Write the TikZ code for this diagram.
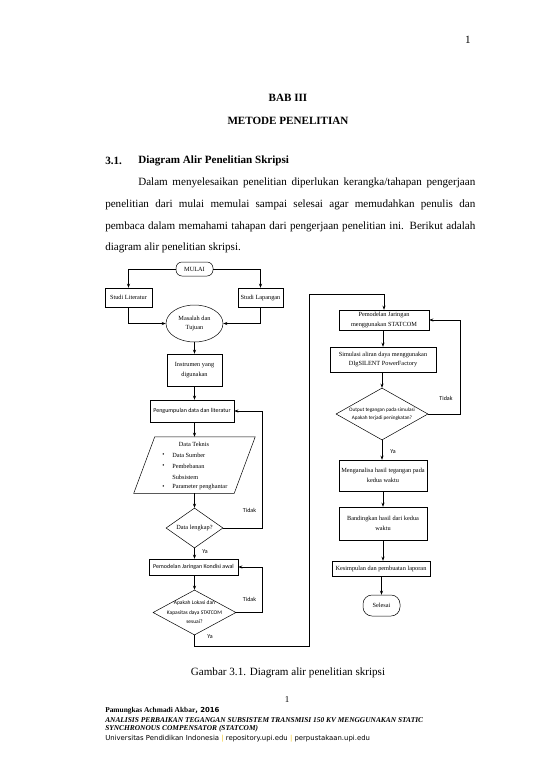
\documentclass[tikz,border=0pt]{standalone}
\usepackage{fontspec}
\setmainfont{Liberation Serif}
\newfontfamily\flowsans{Carlito}
\newfontfamily\footsans{DejaVu Sans}
\usetikzlibrary{shapes.geometric,arrows.meta}
\definecolor{kuning}{RGB}{240,196,30}

\begin{document}
\begin{tikzpicture}[x=1pt,y=-1pt,
    line width=0.5pt,
    kotak/.style={draw, rectangle, inner sep=0pt, align=center},
    ujung/.style={draw, rectangle, rounded corners=6pt, inner sep=0pt},
    oval/.style={draw, ellipse, inner sep=0pt, align=center},
    cabang/.style={draw, diamond, inner sep=0pt},
    serif/.style={font=\fontsize{6.3}{9.5}\selectfont, align=center},
    sans/.style={font=\flowsans\fontsize{6}{9.5}\selectfont, align=center},
    panah/.style={-{Stealth[length=4pt,width=3pt]}},
    isi/.style={font=\fontsize{11.1}{21.6}\selectfont},
    judul/.style={font=\bfseries\fontsize{11.1}{13}\selectfont}
  ]
  \fill[white] (0,0) rectangle (550,777);
  \useasboundingbox (0,0) rectangle (550,777);

  \node[font=\fontsize{11.1}{13}\selectfont] (hal) at (468,40) {1};
  \node[judul] (bab) at (288,98) {BAB III};
  \node[judul] (metode) at (288,121) {METODE PENELITIAN};
  \node[judul, anchor=west, inner sep=0pt] (nomor) at (105,161) {3.1.};
  \node[judul, anchor=west, inner sep=0pt] (subjudul) at (138,161) {Diagram Alir Penelitian Skripsi};
  \node[isi, text width=370pt, align=justify, anchor=north west, inner sep=0pt] (para) at (105,178)
    {\hspace*{33pt}Dalam menyelesaikan penelitian diperlukan kerangka/tahapan pengerjaan\linebreak
     penelitian dari mulai memulai sampai selesai agar memudahkan penulis dan\linebreak
     pembaca dalam memahami tahapan dari pengerjaan penelitian ini. Berikut adalah\linebreak
     diagram alir penelitian skripsi.};

  \coordinate (kiri) at (262,0);
  \coordinate (kanan) at (460,0);
  \coordinate (bawah) at (309,646);
  \coordinate (atas) at (309,294);

  \node[ujung, minimum width=37pt, minimum height=14pt, serif] (mulai) at (194.5,269) {MULAI};
  \node[kotak, minimum width=47pt, minimum height=19pt, serif] (stlit) at (128.5,297.5) {Studi Literatur};
  \node[kotak, minimum width=45pt, minimum height=19pt, serif] (stlap) at (260.5,297.5) {Studi Lapangan};
  \node[oval, minimum width=57pt, minimum height=37pt, serif] (masalah) at (194.5,323.5) {Masalah dan\\Tujuan};
  \node[kotak, minimum width=55pt, minimum height=32pt, serif] (instr) at (194.5,370) {Instrumen yang\\digunakan};
  \node[kotak, minimum width=84pt, minimum height=22pt, sans] (kumpul) at (192,411) {Pengumpulan data dan literatur};
  \node[minimum width=100pt, minimum height=56pt, inner sep=0pt] (teknis) at (194.5,465) {};
  \draw ([xshift=10.5pt]teknis.north west) -- ([xshift=10.5pt]teknis.north east)
     -- ([xshift=-10.5pt]teknis.south east) -- ([xshift=-10.5pt]teknis.south west) -- cycle;
  \node[serif] (teknisjudul) at (194,444) {Data Teknis};
  \foreach \y/\teks in {455/Data Sumber, 466/Pembebanan, 477/Subsistem, 487/Parameter penghantar}
    \node[serif, anchor=west, inner sep=0pt] at (172,\y) {\teks};
  \foreach \y in {455,466,487}
    \node[serif, inner sep=0pt] at (163.5,\y) {\textbullet};
  \node[cabang, minimum width=57pt, minimum height=40pt] (lengkap) at (194.5,528) {};
  \node[serif] at (lengkap) {Data lengkap?};
  \node[kotak, minimum width=89pt, minimum height=16pt, sans] (awal) at (193.5,567) {Pemodelan Jaringan Kondisi awal};
  \node[cabang, minimum width=83pt, minimum height=45pt] (lokasi) at (194.5,612.5) {};
  \node[sans, font=\flowsans\fontsize{5.5}{9.5}\selectfont] at (lokasi) {Apakah Lokasi dan\\Kapasitas daya STATCOM\\sesuai?};

  \node[kotak, minimum width=90pt, minimum height=20pt, serif] (statcom) at (384,320) {Pemodelan Jaringan\\menggunakan STATCOM};
  \node[kotak, minimum width=106pt, minimum height=25pt, serif] (simul) at (383,359.5) {Simulasi aliran daya menggunakan\\DIgSILENT PowerFactory};
  \node[cabang, minimum width=92pt, minimum height=52pt] (output) at (382,414) {};
  \node[sans, font=\flowsans\fontsize{5.2}{7.5}\selectfont] at (output) {Output tegangan pada simulasi\\Apakah terjadi peningkatan?};
  \node[kotak, minimum width=88pt, minimum height=31pt, serif] (analisa) at (383,475.5) {Menganalisa hasil tegangan pada\\kedua waktu};
  \node[kotak, minimum width=88pt, minimum height=33pt, serif] (banding) at (383,523.5) {Bandingkan hasil dari kedua\\waktu};
  \node[kotak, minimum width=98pt, minimum height=15pt, serif] (simpul) at (381,568.5) {Kesimpulan dan pembuatan laporan};
  \node[ujung, rounded corners=9pt, minimum width=37pt, minimum height=21pt, serif] (selesai) at (381.5,605.5) {Selesai};

  \draw[panah] (mulai.west) -| (stlit.north);
  \draw[panah] (mulai.east) -| (stlap.north);
  \draw[panah] (stlit.south) |- (masalah.west);
  \draw[panah] (stlap.south) |- (masalah.east);
  \draw[panah] (masalah.south) -- (instr.north);
  \draw[panah] (instr.south) -- (instr.south |- kumpul.north);
  \draw[panah] (kumpul.south -| teknis) -- (teknis.north);
  \draw[panah] (teknis.south) -- (lengkap.north);
  \draw[panah] (lengkap.east) -- (lengkap.east -| kiri) |- (kumpul.east);
  \draw[panah] (lengkap.south) -- (lengkap.south |- awal.north);
  \draw[panah] (awal.south -| lokasi) -- (lokasi.north);
  \draw[panah] (lokasi.east) -- (lokasi.east -| kiri) |- (awal.east);
  \draw[panah] (lokasi.south) |- (bawah) -- (atas) -| (statcom.north);
  \draw[panah] (statcom.south -| simul) -- (simul.north);
  \draw[panah] (simul.south -| output) -- (output.north);
  \draw[panah] (output.east) -- (output.east -| kanan) |- (statcom.east);
  \draw[panah] (output.south) -- (output.south |- analisa.north);
  \draw[panah] (analisa.south) -- (banding.north);
  \draw[panah] (banding.south) -- (banding.south |- simpul.north);
  \draw[panah] (simpul.south -| selesai) -- (selesai.north);

  \node[sans] (tidak1) at (249.5,510) {Tidak};
  \node[sans] (tidak2) at (249.5,599) {Tidak};
  \node[sans] (tidak3) at (446,398) {Tidak};
  \node[sans] (ya1) at (205,552) {Ya};
  \node[sans] (ya2) at (210,637) {Ya};
  \node[sans] (ya3) at (393,452) {Ya};

  \node[font=\fontsize{11.1}{13}\selectfont] (caption) at (288,673) {Gambar 3.1. Diagram alir penelitian skripsi};
  \node[font=\fontsize{9}{11}\selectfont] (halbawah) at (287,700) {1};
  \node[anchor=west, inner sep=0pt, font=\fontsize{7.4}{9}\selectfont] (penulis) at (105,711)
    {\textbf{Pamungkas Achmadi Akbar}{\footsans\bfseries\fontsize{6.9}{9}\selectfont , 2016}};
  \node[anchor=west, inner sep=0pt, font=\bfseries\itshape\fontsize{7.4}{9}\selectfont] (judulta1) at (105,720)
    {ANALISIS PERBAIKAN TEGANGAN SUBSISTEM TRANSMISI 150 KV MENGGUNAKAN STATIC};
  \node[anchor=west, inner sep=0pt, font=\bfseries\itshape\fontsize{7.4}{9}\selectfont] (judulta2) at (105,729)
    {SYNCHRONOUS COMPENSATOR (STATCOM)};
  \node[anchor=west, inner sep=0pt, font=\footsans\fontsize{6.9}{9}\selectfont] (kampus) at (105,739)
    {Universitas Pendidikan Indonesia {\color{kuning}|} repository.upi.edu {\color{kuning}|} perpustakaan.upi.edu};
\end{tikzpicture}
\end{document}
